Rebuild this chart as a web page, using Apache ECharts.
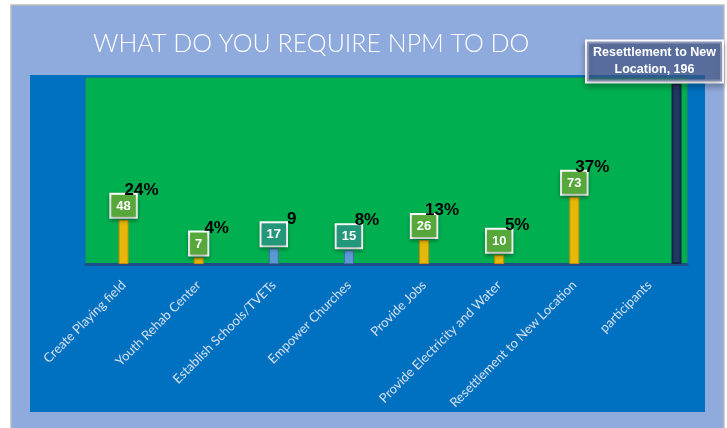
<!DOCTYPE html>
<html>
<head>
<meta charset="utf-8">
<script src="https://cdn.jsdelivr.net/npm/echarts@6/dist/echarts.min.js"></script>
<style>
html,body{margin:0;padding:0;background:#ffffff;}
#chart{width:727px;height:428px;}
</style>
</head>
<body>
<div id="chart"></div>
<script>
// ---- data ----
const titleText = 'WHAT DO YOU REQUIRE NPM TO DO';
const categories = ['Create Playing field', 'Youth Rehab Center', 'Establish Schools/TVETs', 'Empower Churches', 'Provide Jobs', 'Provide Electricity and Water', 'Resettlement to New Location', 'participants'];
const counts = [48, 7, 17, 15, 26, 10, 73, 196];
const shareLabels = ['24%', '4%', '9', '8%', '13%', '5%', '37%', ''];
const totalLabel = 'Resettlement to New\nLocation, 196';

// ---- styles ----
const yellow = {color: '#E5B80B', borderColor: '#C98A00', borderWidth: 1};
const blue = {color: '#5B9BD5', borderColor: '#3F6F9F', borderWidth: 1};
const navy = {color: '#203864', borderColor: '#142544', borderWidth: 2};
const barStyles = [yellow, yellow, blue, blue, yellow, yellow, yellow, navy];
const boxFills = ['#56A83A', '#56A83A', '#22977A', '#22977A', '#56A83A', '#56A83A', '#56A83A', ''];
const lastIdx = counts.length - 1;

const mainData = counts.map((v, i) => i === lastIdx ? '-' : {
  value: v,
  itemStyle: barStyles[i],
  label: {backgroundColor: boxFills[i]}
});
const shareData = counts.map((v, i) => i === lastIdx ? '-' : {value: v, label: {formatter: shareLabels[i]}});
const totalData = counts.map((v, i) => i === lastIdx ? {value: v, itemStyle: barStyles[i]} : '-');

const chart = echarts.init(document.getElementById('chart'), null, {renderer: 'canvas'});
const yMax = 202;
chart.setOption({
  animation: false,
  title: {
    text: titleText, left: 88, top: 26,
    textStyle: {color: '#ffffff', fontSize: 25, fontWeight: 300, fontFamily: 'Lato'}
  },
  graphic: [
    {type: 'rect', z: -20, shape: {x: 11, y: 5, width: 713, height: 430}, style: {fill: '#8FAADC', stroke: '#BDBDBD', lineWidth: 1.5}},
    {type: 'rect', z: -19, shape: {x: 30, y: 75, width: 675, height: 337}, style: {fill: '#0070C0'}}
  ],
  grid: [
    {left: 86, right: 40, top: 78, bottom: 164, show: true, backgroundColor: '#00B050', borderColor: '#1C9A48', borderWidth: 1},
    {left: 114, right: 13, top: 78, bottom: 164, show: false}
  ],
  xAxis: [
    {
      type: 'category', gridIndex: 0, data: categories,
      axisLine: {show: true, lineStyle: {color: '#1F4E8C', width: 3}},
      axisTick: {show: false},
      axisLabel: {rotate: 45, margin: 19, interval: 0, color: '#D6E0EE', fontSize: 13, fontFamily: 'Lato'}
    },
    {
      type: 'category', gridIndex: 1, data: categories,
      axisLine: {show: false}, axisTick: {show: false}, axisLabel: {show: false}
    }
  ],
  yAxis: [
    {type: 'value', gridIndex: 0, min: 0, max: yMax, show: false, splitLine: {show: false}},
    {type: 'value', gridIndex: 1, min: 0, max: yMax, show: false, splitLine: {show: false}}
  ],
  series: [
    {
      type: 'bar', xAxisIndex: 0, yAxisIndex: 0, barWidth: 10, data: mainData,
      label: {
        show: true, position: 'top', distance: 3,
        color: '#ffffff', fontWeight: 'bold', fontSize: 13, fontFamily: 'Liberation Sans',
        borderColor: '#ffffff', borderWidth: 2, padding: [5, 5, 4, 5],
        shadowColor: 'rgba(0,0,0,0.3)', shadowBlur: 4, shadowOffsetY: 2
      }
    },
    {
      type: 'bar', xAxisIndex: 0, yAxisIndex: 0, barWidth: 10, barGap: '-100%', data: shareData,
      itemStyle: {color: 'rgba(0,0,0,0)'},
      label: {
        show: true, position: 'top', offset: [18, -16],
        color: '#000000', fontWeight: 'bold', fontSize: 17, fontFamily: 'Liberation Sans'
      },
      z: 3
    },
    {
      type: 'bar', xAxisIndex: 1, yAxisIndex: 1, barWidth: 10, data: totalData,
      label: {
        show: true, position: 'top', distance: 2, offset: [-22, 0],
        formatter: totalLabel,
        color: '#ffffff', fontWeight: 'bold', fontSize: 12.5, lineHeight: 17, fontFamily: 'Liberation Sans',
        align: 'center',
        backgroundColor: 'rgba(70,90,140,0.6)', borderColor: '#ffffff', borderWidth: 2, padding: [3, 6, 3, 6],
        shadowColor: 'rgba(0,0,0,0.3)', shadowBlur: 6, shadowOffsetY: 3
      }
    }
  ]
});
</script>
</body>
</html>
